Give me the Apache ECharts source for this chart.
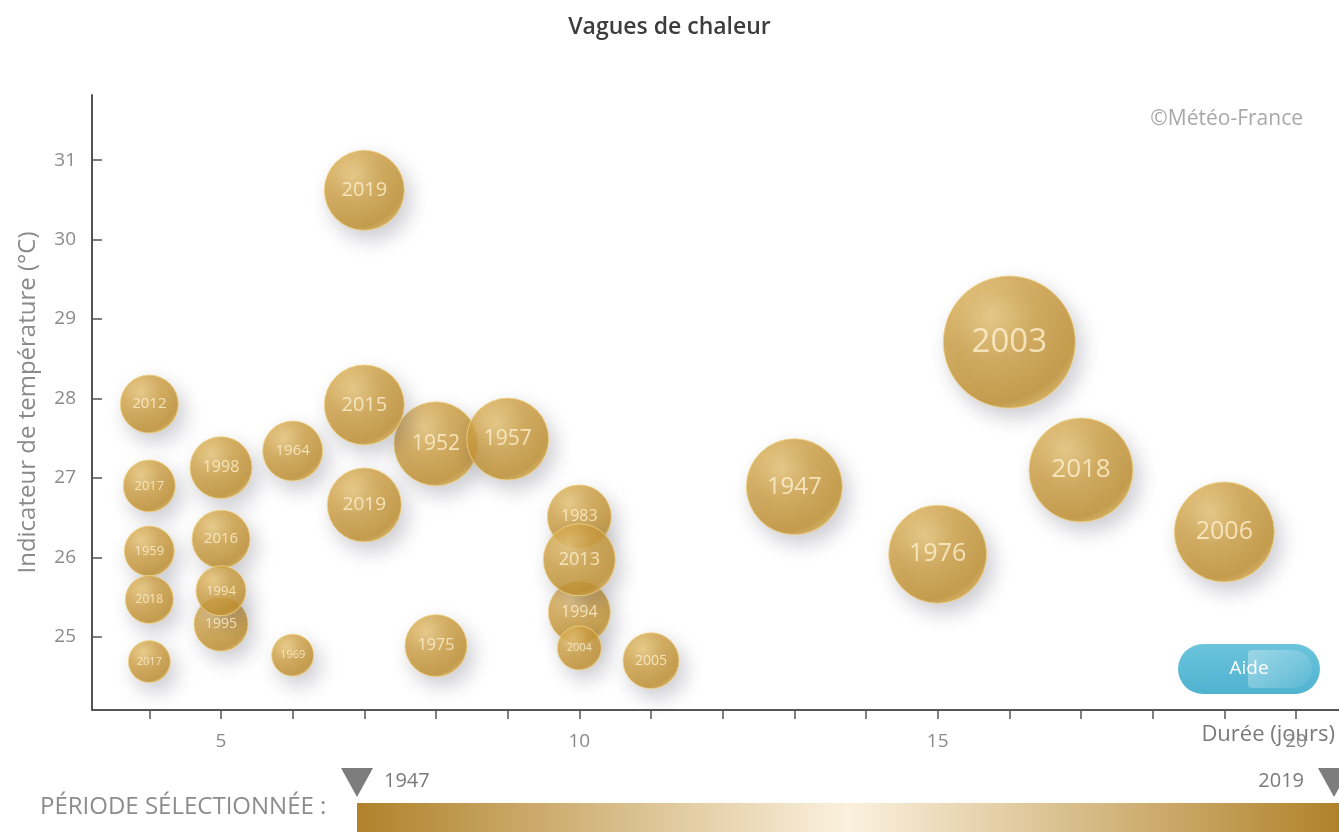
<!DOCTYPE html>
<html>
<head>
    <meta charset="utf-8">
    <script src="https://cdn.jsdelivr.net/npm/echarts@6/dist/echarts.min.js"></script>
</head>
<style>
    body {
        margin: 0;
    }

    #main {
        width: 1339px;
        height: 832px;
    }
</style>
<body>
    <div id="main"></div>
    <script>
        // duree (jours), indicateur thermique (°C), taille de la bulle, annee
        const durees = [4, 4, 4, 4, 4, 5, 5, 5, 5, 6, 6, 7, 7, 8, 7, 9, 8, 10, 10, 10, 10, 11, 13, 15, 16, 17, 19]
        const temperatures = [27.93, 26.90, 26.08, 25.47, 24.69, 27.13, 26.23, 25.16, 25.58, 27.34, 24.77, 30.62, 26.66, 27.43, 27.92, 27.49, 24.89, 26.51, 25.31, 24.86, 25.97, 24.70, 26.89, 26.04, 28.71, 27.10, 26.32]
        const intensites = [29, 26, 25, 24, 21, 31, 29, 27, 25, 30, 21, 40, 37, 42, 40, 41, 31, 32, 31, 22, 36, 28, 48, 49, 66, 52, 50]
        const annees = ['2012', '2017', '1959', '2018', '2017', '1998', '2016', '1995', '1994', '1964', '1969', '2019', '2019', '1952', '2015', '1957', '1975', '1983', '1994', '2004', '2013', '2005', '1947', '1976', '2003', '2018', '2006']

        const xTicks = [4, 5, 6, 7, 8, 9, 10, 11, 12, 13, 14, 15, 16, 17, 18, 19, 20]
        const xLabels = [5, 10, 15, 20]
        const yTicks = [25, 26, 27, 28, 29, 30, 31]
        const periode = ['1947', '2019']

        const grey = '#8a8a8a'

        let bulles = durees.map(function (d, i) {
            return {
                value: [d, temperatures[i], intensites[i], annees[i]],
                label: { fontSize: Math.round(intensites[i] * 0.5) }
            }
        })

        const chart = echarts.init(document.getElementById('main'))
        const option = {
            backgroundColor: '#fff',
            animation: false,
            title: {
                text: 'Vagues de chaleur',
                left: 'center',
                top: 11,
                textStyle: { fontFamily: 'Open Sans', fontSize: 23, fontWeight: 600, color: '#3c3c3c' }
            },
            // pas de recalage automatique de la grille (ECharts 6)
            grid: { left: 92, right: 0, top: 95, bottom: 122, outerBoundsMode: 'none' },
            xAxis: {
                type: 'value',
                min: 3.2,
                max: 20.6,
                name: 'Durée (jours)',
                nameLocation: 'end',
                nameGap: -4,
                nameMoveOverlap: false,
                nameTextStyle: {
                    align: 'right', verticalAlign: 'top', padding: [14, 0, 0, 0],
                    fontFamily: 'Open Sans', fontSize: 22, color: '#7a7a7a'
                },
                axisLine: { lineStyle: { color: '#555', width: 2 } },
                axisTick: { customValues: xTicks, length: 9, lineStyle: { color: '#555', width: 1.5 } },
                axisLabel: { customValues: xLabels, margin: 22, fontFamily: 'Open Sans', fontSize: 19, color: grey },
                splitLine: { show: false }
            },
            yAxis: {
                type: 'value',
                min: 24.08,
                max: 31.82,
                name: 'Indicateur de température (°C)',
                nameLocation: 'middle',
                nameGap: 52,
                nameTextStyle: { fontFamily: 'Open Sans', fontSize: 24, color: grey },
                axisLine: { show: true, lineStyle: { color: '#555', width: 2 } },
                axisTick: { show: true, inside: true, customValues: yTicks, length: 10, lineStyle: { color: '#555', width: 1.5 } },
                axisLabel: { customValues: yTicks, margin: 16, fontFamily: 'Open Sans', fontSize: 19, color: grey },
                splitLine: { show: false }
            },
            series: [{
                type: 'scatter',
                data: bulles,
                symbolSize: function (val) { return val[2] * 2 },
                itemStyle: {
                    color: {
                        type: 'radial', x: 0.36, y: 0.3, r: 0.75,
                        colorStops: [
                            { offset: 0, color: '#e9c676' },
                            { offset: 0.45, color: '#cfa042' },
                            { offset: 0.88, color: '#c08f2c' },
                            { offset: 1, color: '#d6aa4c' }
                        ]
                    },
                    borderColor: '#f0d486',
                    borderWidth: 1,
                    shadowColor: 'rgba(70,70,90,0.33)',
                    shadowBlur: 20,
                    shadowOffsetX: 6,
                    shadowOffsetY: 9
                },
                label: {
                    show: true,
                    position: 'inside',
                    formatter: function (p) { return p.value[3] },
                    color: '#fdf1d0',
                    fontFamily: 'Open Sans'
                },
                emphasis: { disabled: true }
            }],
            graphic: [
                {
                    type: 'text', right: 36, top: 109,
                    style: { text: '©Météo-France', fontFamily: 'Open Sans', fontSize: 21, fill: '#a8a8a8' }
                },
                {
                    type: 'group', left: 1178, top: 644,
                    children: [
                        {
                            type: 'rect', shape: { x: 0, y: 0, width: 142, height: 50, r: 25 },
                            style: {
                                fill: {
                                    type: 'linear', x: 0, y: 0, x2: 0, y2: 1,
                                    colorStops: [{ offset: 0, color: '#6cc3dc' }, { offset: 1, color: '#4fb3d0' }]
                                }
                            }
                        },
                        {
                            type: 'rect', shape: { x: 70, y: 6, width: 64, height: 38, r: [4, 19, 19, 4] },
                            style: {
                                fill: {
                                    type: 'linear', x: 0, y: 0, x2: 1, y2: 1,
                                    colorStops: [{ offset: 0, color: 'rgba(255,255,255,0.35)' }, { offset: 1, color: 'rgba(255,255,255,0.05)' }]
                                }
                            }
                        },
                        {
                            type: 'text', x: 71, y: 25,
                            style: { text: 'Aide', fontFamily: 'Open Sans', fontSize: 19, fill: '#fff', align: 'center', verticalAlign: 'middle' }
                        }
                    ]
                },
                {
                    type: 'text', left: 40, top: 795,
                    style: { text: 'PÉRIODE SÉLECTIONNÉE :', fontFamily: 'Open Sans', fontSize: 24, fill: '#8c8c8c' }
                },
                {
                    type: 'rect', shape: { x: 357, y: 803, width: 982, height: 29 },
                    style: {
                        fill: {
                            type: 'linear', x: 0, y: 0, x2: 1, y2: 0,
                            colorStops: [
                                { offset: 0, color: '#b0822a' },
                                { offset: 0.5, color: '#fbf1de' },
                                { offset: 1, color: '#b0822a' }
                            ]
                        }
                    }
                },
                { type: 'polygon', shape: { points: [[341, 768], [373, 768], [357, 797]] }, style: { fill: '#7d7d7d' } },
                { type: 'polygon', shape: { points: [[1318, 768], [1350, 768], [1334, 797]] }, style: { fill: '#7d7d7d' } },
                {
                    type: 'text', left: 384, top: 771,
                    style: { text: periode[0], fontFamily: 'Open Sans', fontSize: 20, fill: '#7a7a7a' }
                },
                {
                    type: 'text', right: 35, top: 771,
                    style: { text: periode[1], fontFamily: 'Open Sans', fontSize: 20, fill: '#7a7a7a' }
                }
            ]
        }
        chart.setOption(option)
    </script>
</body>
</html>
